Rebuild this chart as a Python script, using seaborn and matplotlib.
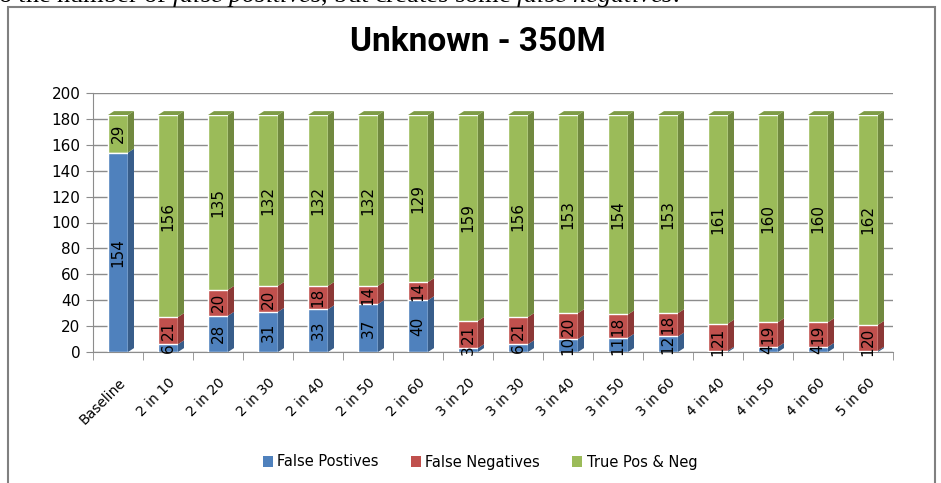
import matplotlib
matplotlib.use("Agg")
import matplotlib.pyplot as plt
import seaborn as sns
import pandas as pd
from matplotlib.patches import Patch, Polygon, Rectangle

# values
categories = ["Baseline", "2 in 10", "2 in 20", "2 in 30", "2 in 40", "2 in 50", "2 in 60",
              "3 in 20", "3 in 30", "3 in 40", "3 in 50", "3 in 60",
              "4 in 40", "4 in 50", "4 in 60", "5 in 60"]
false_pos = [154, 6, 28, 31, 33, 37, 40, 3, 6, 10, 11, 12, 1, 4, 4, 1]
false_neg = [0, 21, 20, 20, 18, 14, 14, 21, 21, 20, 18, 18, 21, 19, 19, 20]
true_pn = [29, 156, 135, 132, 132, 132, 129, 159, 156, 153, 154, 153, 161, 160, 160, 162]
series_names = ["False Postives", "False Negatives", "True Pos & Neg"]

front = ["#4F81BD", "#C0504D", "#9BBB59"]
side = ["#385D8A", "#8C3836", "#71893F"]
top_col = ["#3F6A9E", "#A34340", "#7E9C46"]

df = pd.DataFrame({"cat": categories, "fp": false_pos, "fn": false_neg, "tp": true_pn})
df["fp_fn"] = df["fp"] + df["fn"]
df["total"] = df["fp_fn"] + df["tp"]

sns.set_style("white")
plt.rcParams["font.family"] = ["DejaVu Sans"]
plt.rcParams["text.color"] = "black"
plt.rcParams["xtick.color"] = "black"
plt.rcParams["ytick.color"] = "black"

fig = plt.figure(figsize=(9.41, 4.83), dpi=100)
ax = fig.add_axes([93 / 941, 1 - 352 / 483, 800 / 941, 259 / 483])

bw = 0.4
# stacked bars: draw cumulative totals back to front
sns.barplot(data=df, x="cat", y="total", color=front[2], saturation=1, width=bw, ax=ax, zorder=3)
sns.barplot(data=df, x="cat", y="fp_fn", color=front[1], saturation=1, width=bw, ax=ax, zorder=3)
sns.barplot(data=df, x="cat", y="fp", color=front[0], saturation=1, width=bw, ax=ax, zorder=3)

# pseudo-3D side and top faces + value labels
dx, dy = 0.12, 3.0
for i in range(len(categories)):
    segs = [(0, false_pos[i]), (false_pos[i], false_neg[i]), (false_pos[i] + false_neg[i], true_pn[i])]
    x1 = i + bw / 2
    for k, (b, v) in enumerate(segs):
        if v <= 0:
            continue
        ax.add_patch(Polygon([(x1, b), (x1 + dx, b + dy), (x1 + dx, b + v + dy), (x1, b + v)],
                             closed=True, facecolor=side[k], edgecolor="none", zorder=3))
        ax.text(i, b + v / 2, str(v), rotation=90, ha="center", va="center",
                fontsize=11, color="black", zorder=5)
    tot = sum(s[1] for s in segs)
    ax.add_patch(Polygon([(i - bw / 2, tot), (i - bw / 2 + dx, tot + dy),
                          (x1 + dx, tot + dy), (x1, tot)],
                         closed=True, facecolor=top_col[2], edgecolor="none", zorder=3))

ax.set_xlim(-0.5, len(categories) - 0.5)
ax.set_ylim(0, 200)
ax.set_yticks(range(0, 201, 20))
ax.yaxis.grid(True, color="#8C8C8C", lw=1.0, zorder=0)
ax.set_axisbelow(True)
ax.set_xlabel("")
ax.set_ylabel("")
for s in ["top", "right"]:
    ax.spines[s].set_visible(False)
for s in ["left", "bottom"]:
    ax.spines[s].set_color("#8C8C8C")
ax.tick_params(axis="y", labelsize=11, length=5, color="#8C8C8C", left=True, pad=4)
ax.set_xticks([i - 0.5 for i in range(len(categories) + 1)], minor=True)
ax.tick_params(axis="x", which="minor", length=6, color="#8C8C8C", bottom=True)
ax.tick_params(axis="x", which="major", length=0, labelsize=10, pad=17)
plt.setp(ax.get_xticklabels(), rotation=45, ha="right", rotation_mode="anchor")

fig.text(478 / 941, 1 - 42 / 483, "Unknown - 350M", ha="center", va="center", color="black",
         fontsize=24, fontweight="bold", family=["Roboto", "DejaVu Sans"])

handles = [Patch(facecolor=c, edgecolor="none") for c in front]
fig.legend(handles, series_names, loc="center", bbox_to_anchor=(480 / 941, 1 - 462 / 483),
           ncol=3, frameon=False, fontsize=10.5, handlelength=0.7, handleheight=0.7,
           handletextpad=0.3, columnspacing=2.2)

# chart frame and the cut-off line of body text above it
fig.patches.append(Rectangle((8 / 941, -0.05), 927 / 941, 1.05 - 7 / 483, transform=fig.transFigure,
                             fill=False, edgecolor="#808080", lw=1.5))
plt.rcParams["mathtext.fontset"] = "custom"
plt.rcParams["mathtext.rm"] = "Liberation Serif"
plt.rcParams["mathtext.it"] = "Liberation Serif:italic"
fig.text(-2 / 941, 1 - 2 / 483,
         r"o the number of $\it{false\ positives}$, but creates some $\it{false\ negatives}$.",
         ha="left", va="baseline", fontsize=19, family="Liberation Serif")

fig.savefig("out.png", dpi=100)
